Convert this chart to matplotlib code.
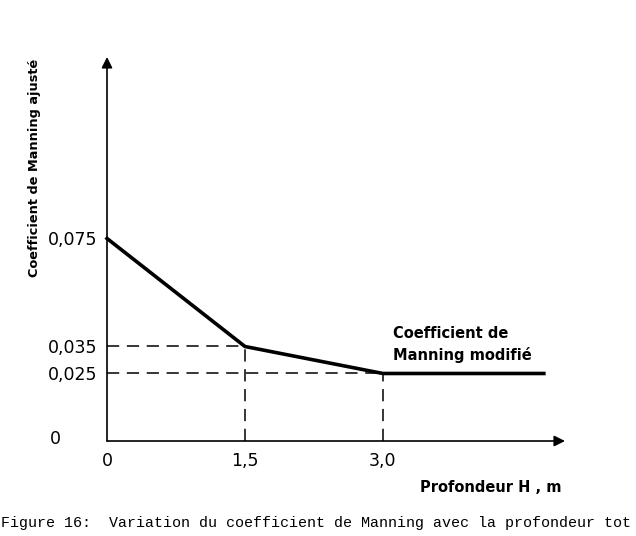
import matplotlib.pyplot as plt

# valeurs
profondeur = [0, 1.5, 3.0, 4.75]
manning = [0.075, 0.035, 0.025, 0.025]
x_ticks = [0, 1.5, 3.0]
x_labels = ['0', '1,5', '3,0']
y_ticks = [0.025, 0.035, 0.075]
y_labels = ['0,025', '0,035', '0,075']
x_max = 4.98
y_max = 0.1422

plt.rcParams['font.family'] = ['DejaVu Sans']

fig = plt.figure(figsize=(6.36, 5.36), dpi=100)
ax = fig.add_axes([107 / 636, 95 / 536, 458 / 636, 384 / 536])
ax.set_xlim(0, x_max)
ax.set_ylim(0, y_max)
for s in ax.spines.values():
    s.set_visible(False)

# axes avec fleches
arrow = dict(arrowstyle='-|>', lw=1.2, color='black', mutation_scale=16,
             shrinkA=0, shrinkB=0)
ax.annotate('', xy=(0, 1), xytext=(0, 0), xycoords='axes fraction', arrowprops=arrow)
ax.annotate('', xy=(1, 0), xytext=(0, 0), xycoords='axes fraction', arrowprops=arrow)

# courbe
ax.plot(profondeur, manning, color='black', lw=2.6, solid_joinstyle='miter',
        clip_on=False)

# lignes de rappel en tirets
for x, y in zip(profondeur[1:3], manning[1:3]):
    ax.plot([0, x], [y, y], color='black', lw=1.1, linestyle=(0, (8, 5)))
    ax.plot([x, x], [0, y], color='black', lw=1.1, linestyle=(0, (8, 5)))

ax.set_xticks(x_ticks)
ax.set_xticklabels(x_labels)
ax.set_yticks(y_ticks)
ax.set_yticklabels(y_labels)
ax.tick_params(length=0, labelsize=12.5)
ax.tick_params(axis='x', pad=8)
ax.tick_params(axis='y', pad=7)

# le zero de l'axe vertical, place plus a gauche
ax.annotate('0', xy=(0, 0), xytext=(-52, 2), textcoords='offset pixels',
            ha='center', va='center', fontsize=12.5)

fig.text(35 / 636, 1 - 168 / 536, 'Coefficient de Manning ajusté',
         rotation=90, ha='center', va='center', fontsize=9.3, fontweight='bold')
fig.text(491 / 636, 1 - 488 / 536, 'Profondeur H , m', ha='center', va='center',
         fontsize=10.5, fontweight='bold')
ax.annotate('Coefficient de\nManning modifié', xy=(profondeur[2], manning[2]),
            xytext=(10, 10), textcoords='offset pixels', ha='left', va='bottom',
            fontsize=10.5, fontweight='bold', linespacing=1.5)

fig.text(1 / 636, 1 - 527 / 536,
         'Figure 16:  Variation du coefficient de Manning avec la profondeur tot',
         family='Liberation Mono', fontsize=10.8, ha='left', va='baseline')

fig.savefig('out.png', dpi=100)
